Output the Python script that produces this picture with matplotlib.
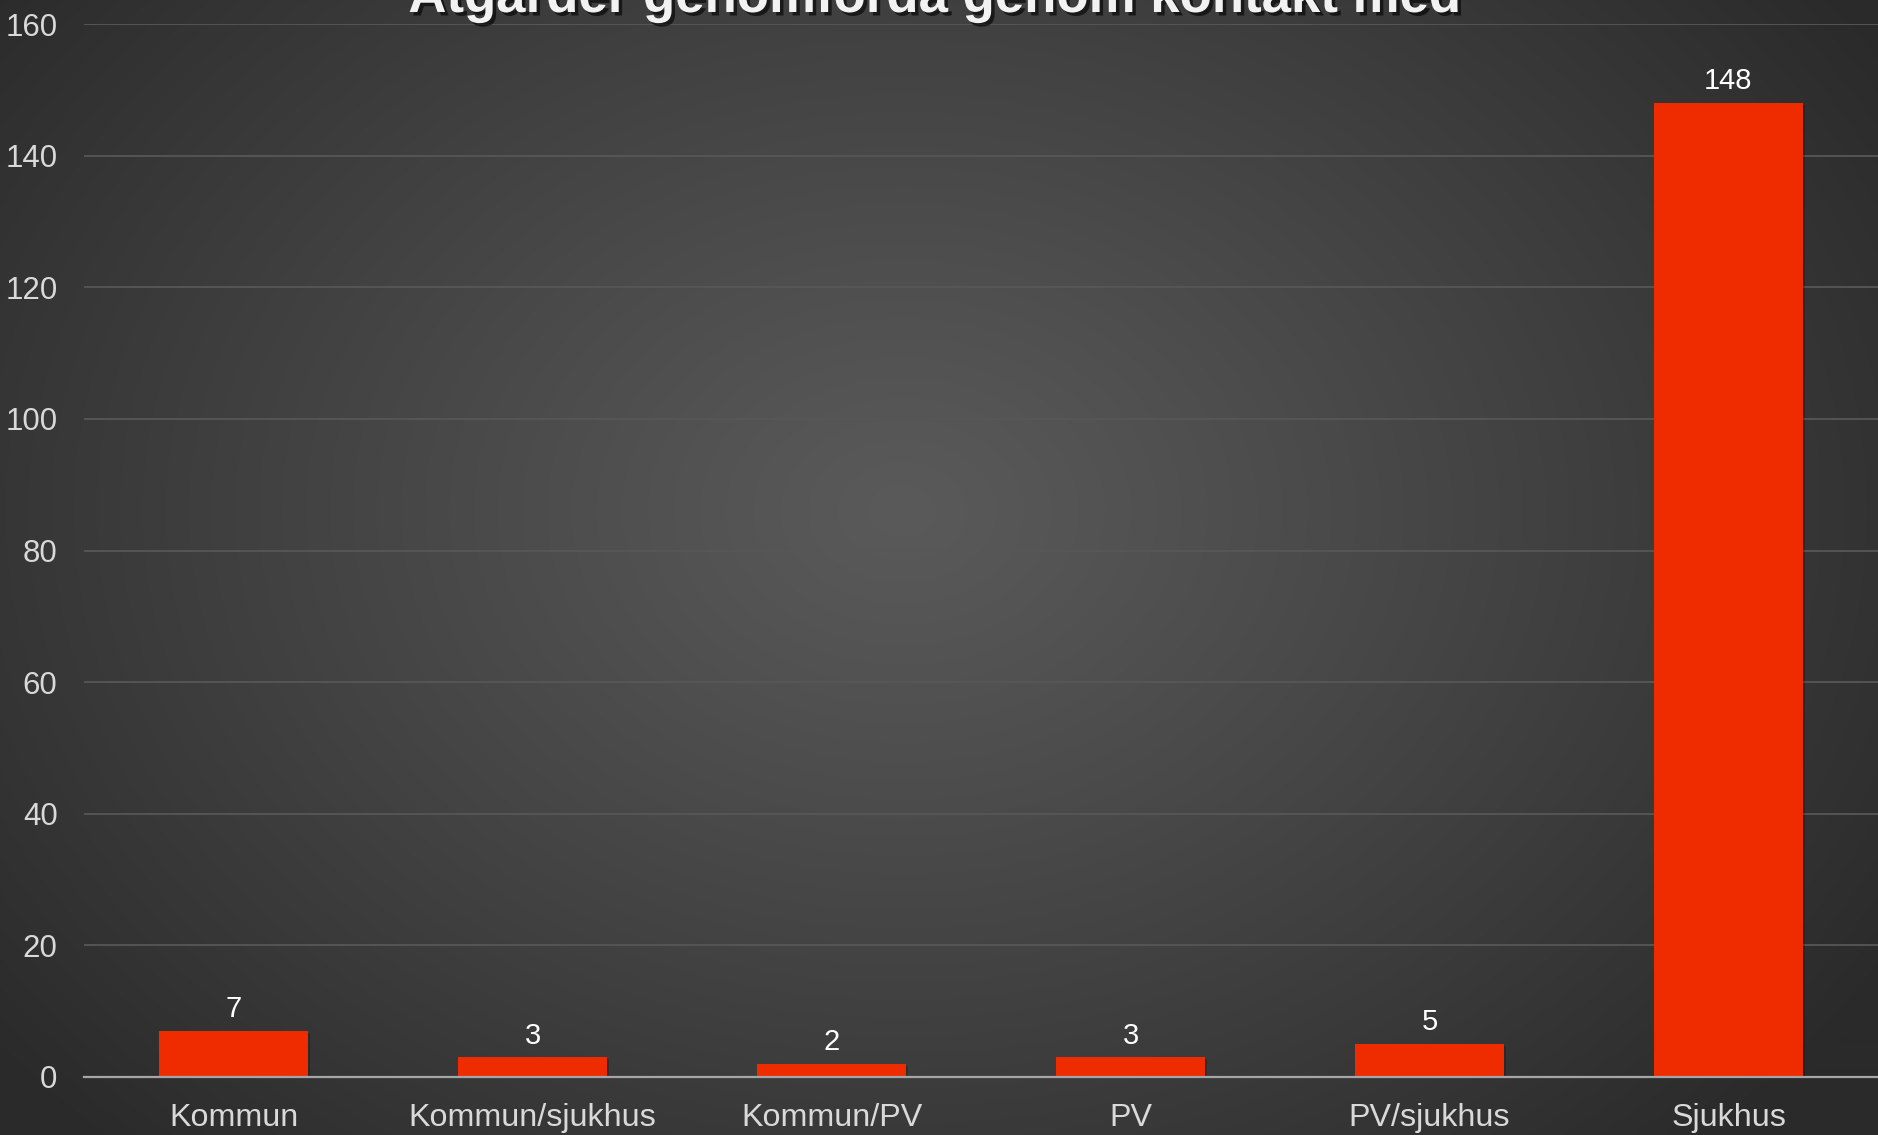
import numpy as np
import matplotlib
matplotlib.use("Agg")
import matplotlib.pyplot as plt
import matplotlib.patheffects as pe

categories = ["Kommun", "Kommun/sjukhus", "Kommun/PV", "PV", "PV/sjukhus", "Sjukhus"]
values = [7, 3, 2, 3, 5, 148]
yticks = [0, 20, 40, 60, 80, 100, 120, 140, 160]
title = "Åtgärder genomförda genom kontakt med"

W, H = 1878, 1135
fig = plt.figure(figsize=(W / 100, H / 100), dpi=100)
fig.patch.set_facecolor("#2c2c2c")

# radial gradient background
bg = fig.add_axes([0, 0, 1, 1], zorder=0)
yy, xx = np.mgrid[0:H:2, 0:W:2]
cx, cy = W * 0.48, H * 0.45
r = np.sqrt(((xx - cx) / (W * 0.62)) ** 2 + ((yy - cy) / (H * 0.78)) ** 2)
r = np.clip(r, 0, 1)
inner, outer = 0x5a / 255, 0x2a / 255
val = inner + (outer - inner) * r ** 1.1
img = np.dstack([val, val, val])
bg.imshow(img, extent=[0, 1, 0, 1], aspect="auto", origin="upper", interpolation="bilinear")
bg.set_axis_off()

ax = fig.add_axes([84 / W, 1 - 1077 / H, 1 - 84 / W, (1077 - 24) / H], zorder=1)
ax.set_facecolor("none")
x = np.arange(len(categories))
bars = ax.bar(x, values, width=0.5, color="#EE2C00", zorder=3,
              path_effects=[pe.SimplePatchShadow(offset=(1.5, -1.5), shadow_rgbFace="black", alpha=0.2), pe.Normal()])
ax.set_xlim(-0.5, len(categories) - 0.5)
ax.set_ylim(0, 160)
ax.set_yticks(yticks)
ax.set_xticks(x)
ax.set_xticklabels(categories)
for s in ["top", "right", "left"]:
    ax.spines[s].set_visible(False)
ax.spines["bottom"].set_color("#a6a6a6")
ax.spines["bottom"].set_linewidth(1.6)
ax.spines["bottom"].set_zorder(4)
ax.grid(axis="y", color="#575757", linewidth=1.3, zorder=1)
ax.tick_params(axis="both", length=0, labelcolor="#d9d9d9")
ax.tick_params(axis="y", pad=19, labelsize=22.5)
ax.tick_params(axis="x", pad=18.5, labelsize=23.2)
for lab in ax.get_xticklabels() + ax.get_yticklabels():
    lab.set_fontfamily("Liberation Sans")

ax.bar_label(bars, labels=[str(v) for v in values], padding=5.5, color="white",
             fontsize=21, fontfamily="Liberation Sans")

fig.text(934 / W, 1 - 12 / H, title, ha="center", va="baseline", fontsize=38,
         fontweight="bold", color="#f2f2f2", fontfamily="Liberation Sans",
         path_effects=[pe.SimplePatchShadow(offset=(2.5, -2.5), shadow_rgbFace="black", alpha=0.6), pe.Normal()],
         zorder=5)

fig.savefig("out.png", dpi=100, facecolor=fig.get_facecolor())
